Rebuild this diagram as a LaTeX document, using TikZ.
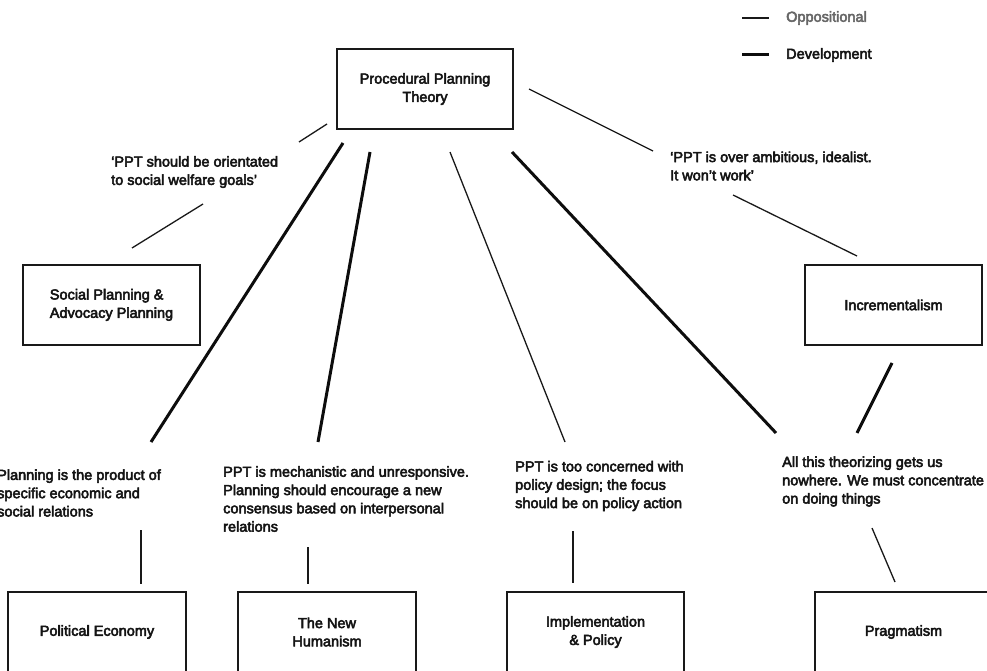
\documentclass[tikz,border=0pt]{standalone}
\usepackage{fontspec}
\setmainfont{Liberation Sans}
\newfontfamily\lblfont{Liberation Sans}[FakeBold=3.5]
\begin{document}
\begin{tikzpicture}[x=1pt,y=-1pt,
  every node/.style={font=\lblfont\fontsize{14.5}{18.3}\selectfont, text=black!92},
  box/.style={draw=black!90, line width=1.8pt, rectangle, minimum width=177pt, minimum height=80pt, align=center, inner sep=0pt},
  note/.style={anchor=west, align=left, inner sep=0pt},
  oppline/.style={line width=1.3pt, black!90},
  devline/.style={line width=3pt, black!95}
]
\useasboundingbox (0,0) rectangle (987,671);
\clip (0,0) rectangle (987,671);

% key
\coordinate (kta) at (742,18);  \coordinate (ktb) at (769,18);
\coordinate (kda) at (742,55);  \coordinate (kdb) at (769,55);
\draw[oppline] (kta) -- (ktb);
\draw[devline] (kda) -- (kdb);
\node[note, text=black!60] (kopp) at (786,18) {Oppositional};
\node[note] (kdev) at (786,55) {Development};

% boxes
\node[box, minimum width=176pt] (ppt) at (425,89) {Procedural Planning\\Theory};
\node[box] (spap) at (111.5,305) {\begin{tabular}{@{}l@{}}Social Planning \&\\Advocacy Planning\end{tabular}};
\node[box] (incr) at (893.5,305) {Incrementalism};
\node[box, minimum width=178pt] (pe) at (97,632) {Political Economy};
\node[box, minimum width=178pt] (nh) at (327,632) {The New\\Humanism};
\node[box] (ip) at (595.5,632) {Implementation\\\& Policy};
\node[box] (pr) at (903.5,632) {Pragmatism};

% critiques
\node[note] (q1) at (111,172) {‘PPT should be orientated\\to social welfare goals’};
\node[note] (q2) at (670,166) {‘PPT is over ambitious, idealist.\\It won’t work’};
\node[note] (tpe) at (-3,493) {Planning is the product of\\specific economic and\\social relations};
\node[note] (tnh) at (223,499) {PPT is mechanistic and unresponsive.\\Planning should encourage a new\\consensus based on interpersonal\\relations};
\node[note] (tip) at (515,486) {PPT is too concerned with\\policy design; the focus\\should be on policy action};
\node[note] (tpr) at (782,481.5) {All this theorizing gets us\\nowhere. We must concentrate\\on doing things};

% connector end points
\coordinate (a1) at (327,124); \coordinate (a2) at (299,142);
\coordinate (a3) at (203,204); \coordinate (a4) at (132,248);
\coordinate (b1) at (529,89);  \coordinate (b2) at (653,151);
\coordinate (b3) at (733,195); \coordinate (b4) at (857,256);
\coordinate (c1) at (343,143); \coordinate (c2) at (151,442);
\coordinate (d1) at (370,152); \coordinate (d2) at (318,442);
\coordinate (e1) at (450,152); \coordinate (e2) at (565,442);
\coordinate (f1) at (512,152); \coordinate (f2) at (776,433);
\coordinate (g1) at (892,363); \coordinate (g2) at (857,433);
\coordinate (h1) at (141,530); \coordinate (h2) at (141,584);
\coordinate (i1) at (308,547); \coordinate (i2) at (308,584);
\coordinate (j1) at (573,531); \coordinate (j2) at (573,583);
\coordinate (k1) at (872,528); \coordinate (k2) at (895,582);

% oppositional links
\draw[oppline] (a1) -- (a2);
\draw[oppline] (a3) -- (a4);
\draw[oppline] (b1) -- (b2);
\draw[oppline] (b3) -- (b4);
\draw[oppline] (e1) -- (e2);
\draw[oppline] (h1) -- (h2);
\draw[oppline] (i1) -- (i2);
\draw[oppline] (j1) -- (j2);
\draw[oppline] (k1) -- (k2);

% development links
\draw[devline] (c1) -- (c2);
\draw[devline] (d1) -- (d2);
\draw[devline] (f1) -- (f2);
\draw[devline] (g1) -- (g2);
\end{tikzpicture}
\end{document}
